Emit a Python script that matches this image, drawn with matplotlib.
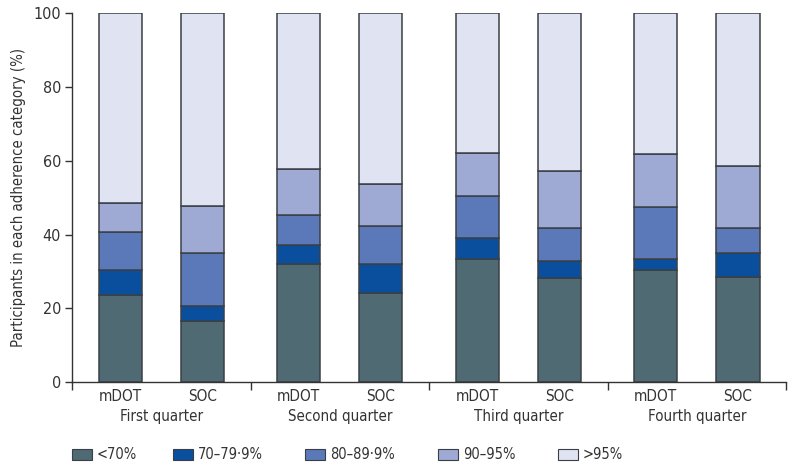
import numpy as np
import matplotlib
matplotlib.use('Agg')
from matplotlib import pyplot as plt
from matplotlib.patches import Patch

plt.rcParams['font.family'] = ['DejaVu Sans']
plt.rcParams['font.stretch'] = 'condensed'

#%% data (% of participants)
quarters = ['First quarter', 'Second quarter', 'Third quarter', 'Fourth quarter']
arms = ['mDOT', 'SOC']
categories = ['<70%', '70\u201379\u00b79%', '80\u201389\u00b79%', '90\u201395%', '>95%']
# order: Q1 mDOT, Q1 SOC, Q2 mDOT, Q2 SOC, ...
lt70 = [23.6, 16.7, 32.0, 24.3, 33.5, 28.3, 30.4, 28.4]
p70_79 = [6.8, 3.9, 5.2, 7.8, 5.6, 4.6, 3.1, 6.6]
p80_89 = [10.2, 14.5, 8.1, 10.3, 11.4, 9.0, 14.1, 6.7]
p90_95 = [8.0, 12.8, 12.4, 11.3, 11.6, 15.4, 14.2, 16.9]
gt95 = [51.4, 52.1, 42.3, 46.3, 37.9, 42.7, 38.2, 41.4]

colors = ['#4f6a73', '#0a4e9e', '#5b78b8', '#9eaad4', '#dfe3f2']
edge = '#3a3f45'

#%% plot
fig = plt.figure(figsize=(7.94, 4.69), dpi=100)
ax = fig.add_axes([0.0907, 0.185, 0.8993, 0.7866])

group_w = 4.0
offsets = [-0.92, 0.92]
xpos = []
for g in range(len(quarters)):
    for o in offsets:
        xpos.append(g * group_w + group_w / 2 + o)
xpos = np.array(xpos)

series = [lt70, p70_79, p80_89, p90_95, gt95]
bottom = np.zeros(len(xpos))
for vals, c in zip(series, colors):
    vals = np.array(vals)
    ax.bar(xpos, vals, width=0.97, bottom=bottom, color=c, edgecolor=edge,
           linewidth=1.1)
    bottom += vals

ax.set_xlim(0, group_w * len(quarters))
ax.set_ylim(0, 100)
ax.set_yticks(np.arange(0, 101, 20))
ax.tick_params(axis='y', labelsize=11.5, length=5, width=1, color='#333333',
               labelcolor='#333333', pad=3)
ax.set_xticks(np.arange(0, group_w * len(quarters) + 0.1, group_w))
ax.set_xticklabels([])
ax.tick_params(axis='x', length=6, width=1, color='#333333')
for s in ['top', 'right']:
    ax.spines[s].set_visible(False)
for s in ['left', 'bottom']:
    ax.spines[s].set_color('#333333')
    ax.spines[s].set_linewidth(1)

for i, x in enumerate(xpos):
    ax.text(x, -1.7, arms[i % 2], ha='center', va='top', fontsize=11,
            color='#333333')
for g, q in enumerate(quarters):
    ax.text(g * group_w + group_w / 2, -7.3, q, ha='center', va='top',
            fontsize=10.8, color='#333333')

ax.set_ylabel('Participants in each adherence category (%)', fontsize=10.7,
              color='#333333', labelpad=5)

# legend, one entry at a time so the spacing matches
leg_x = [0.0907, 0.2179, 0.3841, 0.5516, 0.7028]
for cat, c, lx in zip(categories, colors, leg_x):
    fig.legend(handles=[Patch(facecolor=c, edgecolor=edge, linewidth=0.8)],
               labels=[cat], loc='center left', bbox_to_anchor=(lx, 0.03),
               frameon=False, fontsize=10.5, handlelength=1.37,
               handleheight=0.82, handletextpad=0.35, borderpad=0,
               borderaxespad=0, labelcolor='#333333')

plt.savefig('out.png', dpi=100)
